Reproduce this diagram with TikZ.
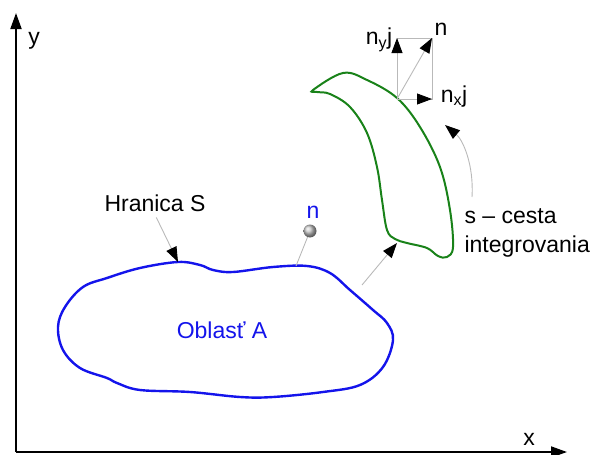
\documentclass[tikz,border=0pt]{standalone}
\usepackage{fontspec}
\setmainfont{Liberation Sans}
\usetikzlibrary{arrows.meta, positioning}
\definecolor{oblastblue}{RGB}{20,20,235}
\definecolor{cestagreen}{RGB}{25,130,25}

\begin{document}
\begin{tikzpicture}[x=1pt, y=-1pt, font=\fontsize{23}{27}\selectfont,
    pointer/.style={gray!55, line width=0.9pt, -{Triangle[length=15pt, width=11pt, color=black]}},
    thinline/.style={gray!55, line width=0.9pt},
    axis/.style={line width=1.8pt, -{Triangle[length=16pt, width=11pt]}}]
  \useasboundingbox (0,0) rectangle (598,455);

  % Axes
  \coordinate (o) at (16,452);
  \coordinate (xend) at (567,452);
  \coordinate (yend) at (16,13);
  \draw[axis] (o) -- (xend);
  \draw[axis] (o) -- (yend);
  \node[anchor=base] (xlab) at (529,445) {x};
  \node[anchor=base] (ylab) at (34,44) {y};

  % Region A with boundary S
  \draw[oblastblue, line width=2.4pt] plot[smooth cycle, tension=0.6] coordinates {
    (178,262) (200,265) (213,270) (233,272) (273,267) (307,266) (330,273)
    (350,290) (373,310) (387,323) (393,340) (383,367) (360,385) (323,392)
    (273,397) (240,397) (190,392) (140,390) (117,383) (107,378) (80,368)
    (63,350) (58,327) (65,307) (83,287) (107,278) (140,268)};
  \node[anchor=base, oblastblue] (oblast) at (222,338) {Oblasť A};

  % Integration path s
  \draw[cestagreen, line width=2pt] plot[smooth cycle, tension=0.6] coordinates {
    (313,90) (343,73) (367,80) (397,98) (420,127) (440,167) (450,210)
    (453,247) (447,257) (438,256) (427,248) (407,243) (395,239) (387,230)
    (382,200) (377,167) (367,133) (350,107) (330,94) (317,92)};

  % Boundary label
  \node[anchor=base] (hranica) at (155,211) {Hranica S};
  \coordinate (stop) at (178,262);
  \draw[pointer, shorten <=3pt] (hranica.south) -- (stop);

  % Normal n on the boundary
  \node[circle, ball color=gray!45, minimum size=13pt, inner sep=0pt] (nball) at (310,231) {};
  \node[anchor=base, oblastblue] (nblue) at (313,218) {n};
  \coordinate (nfoot) at (296,266);
  \draw[thinline] (nball) -- (nfoot);

  % Mapping arrow A -> s
  \coordinate (aout) at (362,285);
  \coordinate (ain) at (397,243);
  \draw[pointer] (aout) -- (ain);

  % Normal vector components
  \coordinate (vo) at (397,99);
  \coordinate (vy) at (397,38);
  \coordinate (vx) at (432,99);
  \coordinate (vn) at (432,38);
  \draw[thinline] (vo) rectangle (vn);
  \draw[pointer] (vo) -- (vy);
  \draw[pointer] (vo) -- (vx);
  \draw[pointer] (vo) -- (vn);
  \node[anchor=base] (nyj) at (379,45) {n\textsubscript{y}j};
  \node[anchor=base] (nn) at (441,35) {n};
  \node[anchor=base] (nxj) at (454,102) {n\textsubscript{x}j};

  % Direction along s
  \coordinate (sfrom) at (472,197);
  \coordinate (sto) at (445,125);
  \draw[pointer] (sfrom) .. controls (474,165) and (463,140) .. (sto);
  \node[anchor=base west] (scesta) at (461,223) {s -- cesta};
  \node[anchor=base west] (integ) at (461,252) {integrovania};
\end{tikzpicture}
\end{document}
